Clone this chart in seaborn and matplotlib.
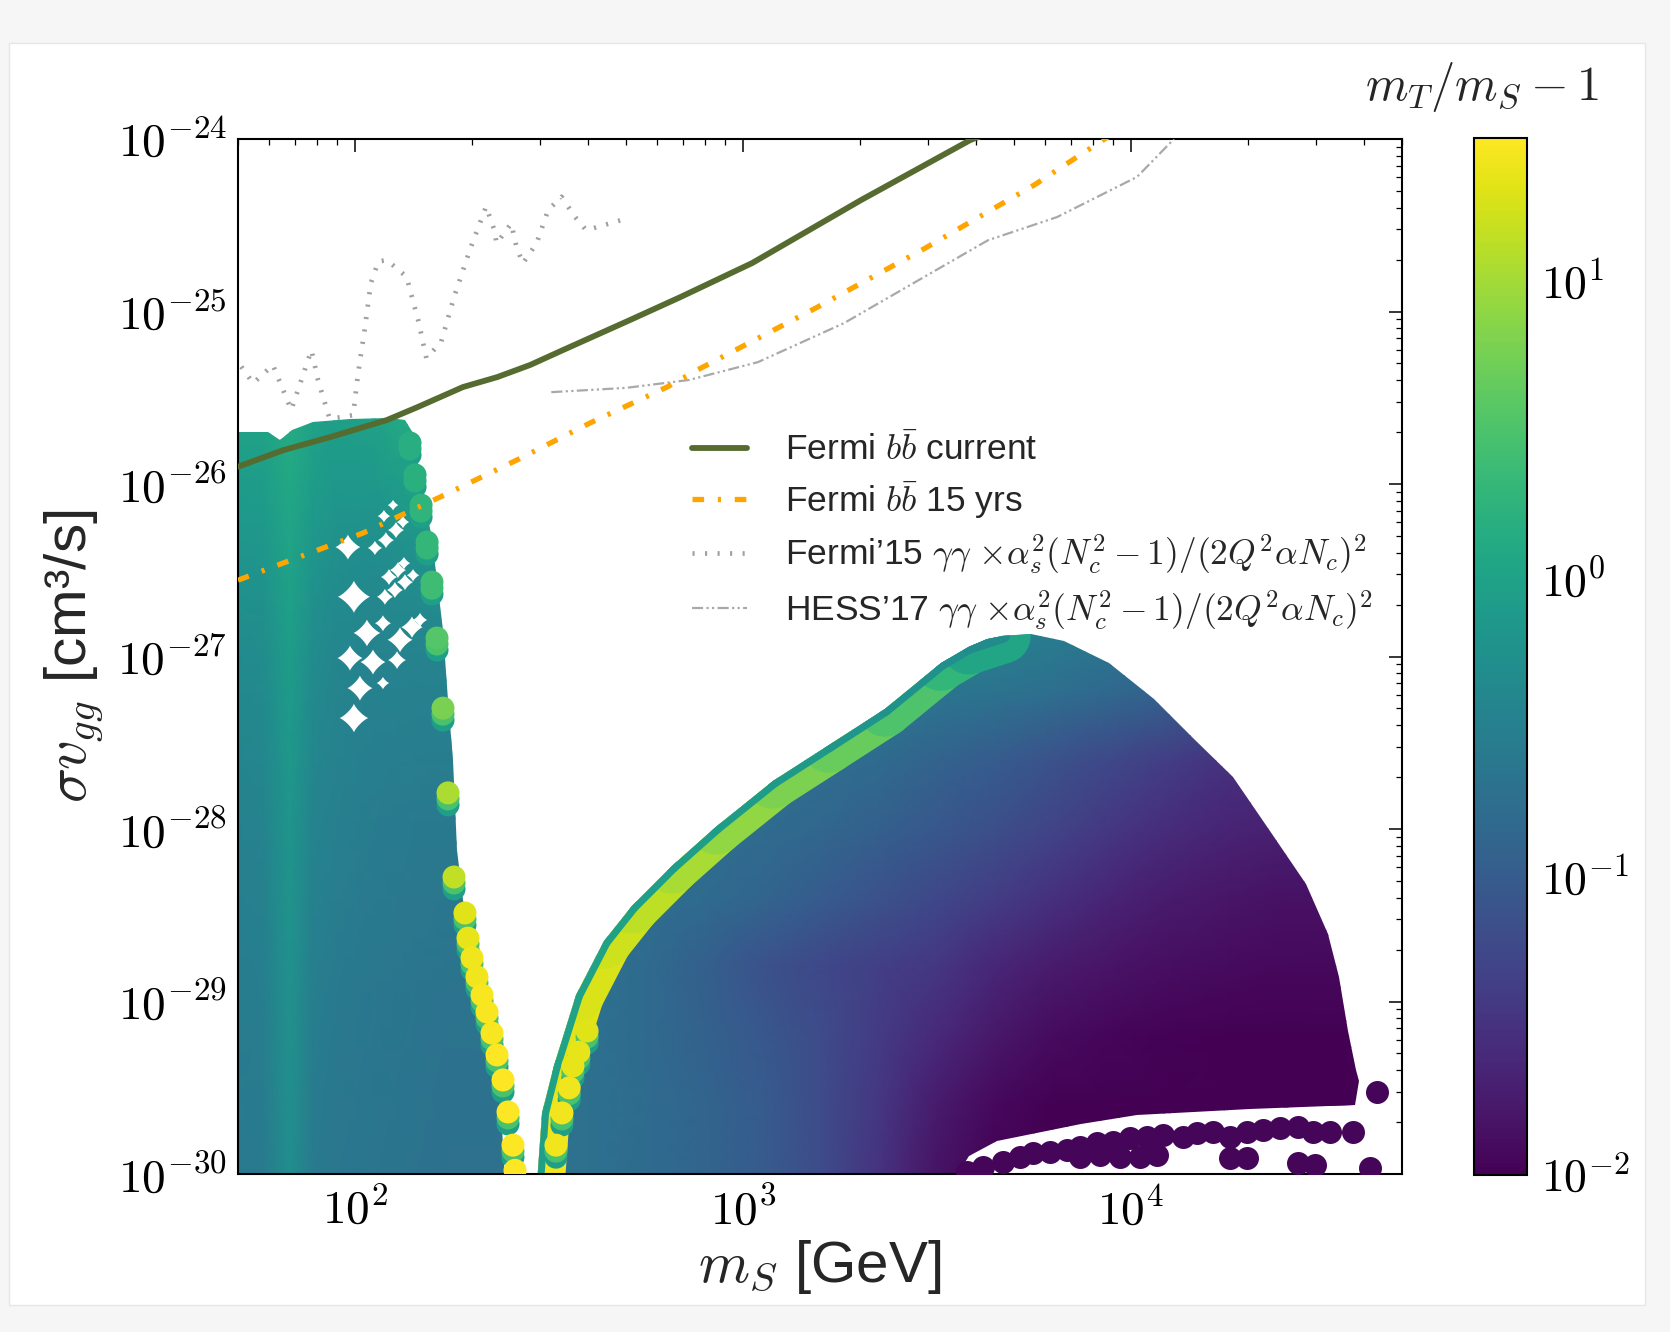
import numpy as np
import matplotlib
matplotlib.use("Agg")
import matplotlib.pyplot as plt
import seaborn as sns
from matplotlib.colors import LogNorm
from matplotlib.patches import Polygon, Rectangle
from matplotlib.collections import LineCollection
from matplotlib.path import Path
from matplotlib import ticker, transforms
import matplotlib.cm as cm

# ---------------- data ----------------
# limit curves (m_S in GeV, sigma v in cm^3/s)
fermi_current_mS = [50, 65.3, 86.3, 121, 145, 190, 233, 283, 344, 512, 689, 1057, 2018, 3855, 4467]
fermi_current_sv = [1.26e-26, 1.57e-26, 1.87e-26, 2.35e-26, 2.79e-26, 3.65e-26, 4.17e-26, 4.90e-26,
                    5.98e-26, 8.93e-26, 1.21e-25, 1.91e-25, 4.43e-25, 9.86e-25, 1.12e-24]

fermi15yr_mS = [50, 65.3, 105, 166, 262, 404, 638, 780, 1545, 2951, 5636, 8730]
fermi15yr_sv = [2.77e-27, 3.48e-27, 5.20e-27, 8.41e-27, 1.38e-26, 2.26e-26, 3.65e-26, 4.70e-26,
                1.05e-25, 2.33e-25, 5.41e-25, 1.03e-24]

fermi_gg_mS = [51.0, 54.7, 61.5, 68.6, 77.3, 80.4, 86.1, 92.3, 99.0, 102, 106, 110, 115, 121, 136, 146,
               153, 167, 181, 198, 218, 229, 232, 253, 261, 271, 294, 315, 341, 369, 395, 486]
fermi_gg_sv = [4.79e-26, 3.84e-26, 4.90e-26, 2.69e-26, 5.98e-26, 4.01e-26, 2.40e-26, 2.44e-26, 2.51e-26,
               4.39e-26, 7.82e-26, 1.46e-25, 1.95e-25, 1.99e-25, 1.59e-25, 8.73e-26, 5.36e-26, 6.68e-26,
               1.25e-25, 2.28e-25, 4.06e-25, 2.96e-25, 2.48e-25, 3.24e-25, 2.38e-25, 1.90e-25, 2.48e-25,
               3.87e-25, 4.63e-25, 3.55e-25, 2.96e-25, 3.39e-25]

hess_gg_mS = [321, 500, 726, 1094, 1824, 2649, 4285, 6457, 10375, 12706, 13397]
hess_gg_sv = [3.41e-26, 3.61e-26, 4.01e-26, 5.09e-26, 8.57e-26, 1.39e-25, 2.59e-25, 3.53e-25,
              6.03e-25, 9.62e-25, 1.13e-24]

# outline of the low-mass scan region
low_edge_mS = [45, 50, 59.7, 64.1, 68.9, 78.0, 97.2, 123, 135, 141, 146, 152, 158, 163, 169, 174, 179,
               183, 190, 204, 223, 237, 244, 45]
low_edge_sv = [2.0e-26, 2.0e-26, 2.0e-26, 1.80e-26, 2.06e-26, 2.29e-26, 2.38e-26, 2.42e-26, 2.35e-26,
               1.98e-26, 1.21e-26, 8.07e-27, 4.73e-27, 2.77e-27, 1.43e-27, 5.60e-28, 2.51e-28, 7.55e-29,
               3.87e-29, 1.74e-29, 6.84e-30, 3.07e-30, 8.9e-31, 8.9e-31]

# outline of the high-mass scan region
high_edge_mS = [295, 304, 326, 372, 439, 518, 657, 853, 1197, 1669, 2326, 3242, 3828, 4250, 4685, 5532,
                6726, 8787, 11477, 14466, 18340, 23110, 28290, 32230, 34410, 36290, 38050, 38730, 37820,
                20290, 10375, 7438, 4520, 3828, 3461]
high_edge_sv = [8.9e-31, 2.26e-30, 4.23e-30, 1.09e-29, 2.24e-29, 3.58e-29, 6.11e-29, 1.03e-28, 1.90e-28,
                3.07e-28, 4.97e-28, 9.16e-28, 1.14e-27, 1.26e-27, 1.32e-27, 1.35e-27, 1.23e-27, 9.16e-28,
                5.68e-28, 3.37e-28, 2.00e-28, 9.35e-29, 4.80e-29, 2.46e-29, 1.39e-29, 6.75e-30, 4.01e-30,
                3.46e-30, 2.51e-30, 2.38e-30, 2.20e-30, 1.95e-30, 1.55e-30, 1.27e-30, 8.9e-31]

# colour (m_T/m_S - 1, log10) read on a coarse grid, low-mass region
low_grid_mS = [45, 58, 68, 78, 89, 112, 141, 178, 250]
low_grid_sv = [7.9e-31, 1e-29, 1e-28, 1e-27, 3.16e-27, 1e-26, 2.5e-26]
low_grid_log_ratio = [
    [-0.60, -0.58, -0.30, -0.58, -0.62, -0.65, -0.68, -0.72, -0.72],
    [-0.55, -0.52, -0.25, -0.52, -0.58, -0.62, -0.65, -0.68, -0.68],
    [-0.48, -0.45, -0.18, -0.45, -0.50, -0.55, -0.58, -0.60, -0.60],
    [-0.35, -0.32, -0.08, -0.32, -0.40, -0.45, -0.45, -0.45, -0.45],
    [-0.22, -0.20, 0.00, -0.20, -0.30, -0.33, -0.30, -0.25, -0.25],
    [-0.10, -0.08, 0.08, -0.08, -0.15, -0.15, -0.05, 0.05, 0.05],
    [0.00, 0.02, 0.15, 0.00, -0.05, 0.00, 0.15, 0.30, 0.30],
]

# colour on a coarse grid, high-mass region
high_grid_mS = [282, 398, 562, 794, 1122, 1585, 2239, 3162, 4467, 6310, 8913, 12589, 17783, 25119, 39811]
high_grid_sv = [7.9e-31, 2.5e-30, 6.3e-30, 1.6e-29, 4.0e-29, 1e-28, 2.5e-28, 6.3e-28, 1.6e-27]
high_grid_log_ratio = [
    [-0.70, -0.72, -0.78, -0.88, -1.00, -1.20, -1.50, -1.85, -2.00, -2.00, -2.00, -2.00, -2.00, -2.00, -2.00],
    [-0.70, -0.72, -0.78, -0.88, -1.00, -1.20, -1.45, -1.75, -1.93, -2.00, -2.00, -2.00, -2.00, -2.00, -2.00],
    [-0.70, -0.72, -0.80, -0.92, -1.05, -1.20, -1.40, -1.60, -1.78, -1.90, -1.95, -1.98, -2.00, -2.00, -2.00],
    [-0.70, -0.72, -0.80, -0.95, -1.12, -1.25, -1.35, -1.45, -1.62, -1.75, -1.82, -1.87, -1.90, -1.92, -1.92],
    [-0.70, -0.70, -0.75, -0.80, -0.88, -1.00, -1.12, -1.25, -1.38, -1.52, -1.65, -1.75, -1.80, -1.85, -1.85],
    [-0.65, -0.65, -0.68, -0.72, -0.78, -0.85, -0.95, -1.05, -1.17, -1.30, -1.45, -1.57, -1.65, -1.70, -1.70],
    [-0.60, -0.60, -0.62, -0.65, -0.70, -0.74, -0.80, -0.90, -1.00, -1.12, -1.25, -1.38, -1.50, -1.55, -1.55],
    [-0.50, -0.50, -0.52, -0.55, -0.58, -0.60, -0.62, -0.64, -0.68, -0.74, -0.82, -0.92, -1.00, -1.05, -1.05],
    [-0.40, -0.40, -0.40, -0.40, -0.40, -0.40, -0.40, -0.40, -0.42, -0.50, -0.58, -0.65, -0.70, -0.75, -0.75],
]

# large-splitting points along the inner edge of the high-mass region
band_mS = [295, 304, 326, 372, 439, 518, 657, 853, 1197, 1669, 2326, 3242, 3828, 4685]
band_sv = [8.9e-31, 2.26e-30, 4.23e-30, 1.09e-29, 2.24e-29, 3.58e-29, 6.11e-29, 1.03e-28, 1.90e-28,
           3.07e-28, 4.97e-28, 9.16e-28, 1.14e-27, 1.32e-27]
band_ratio = [25, 25, 22, 20, 18, 15, 12, 9, 7, 5.5, 4, 2.5, 1.5, 0.8]
band_rim_ratio = [0.9, 0.9, 1.0, 1.0, 1.0, 0.9, 0.9, 0.8, 0.8, 0.7, 0.6, 0.55, 0.5, 0.45]

# individual points along the edges of the V
edge_dot_mS = [138.8, 143.0, 148.2, 153.6, 158.1, 162.9, 168.8, 173.9, 180.2, 192.3, 195.8, 200.5, 206.5,
               212.8, 219.2, 225.8, 232.6, 241.0, 248.3, 255.7, 258.8,
               330, 342, 357, 365, 378, 397]
edge_dot_sv = [1.73e-26, 1.13e-26, 7.55e-27, 4.61e-27, 2.70e-27, 1.28e-27, 5.02e-28, 1.62e-28, 5.27e-29,
               3.26e-29, 2.33e-29, 1.79e-29, 1.39e-29, 1.09e-29, 8.69e-30, 6.56e-30, 4.90e-30, 3.51e-30,
               2.29e-30, 1.47e-30, 1.05e-30,
               1.47e-30, 2.26e-30, 3.16e-30, 4.23e-30, 5.09e-30, 6.75e-30]
edge_dot_ratio = [1.5, 1.6, 1.8, 2.0, 2.5, 3.5, 6, 11, 14, 20, 22, 25, 25, 28, 28, 28, 30, 30, 30, 30, 30,
                  25, 25, 25, 22, 22, 20]

# gaps in the low-mass scan
gap_mS = [96.0, 112.7, 120.3, 127.7, 133.1, 118.9, 125.5, 122.5, 129.2, 133.9, 99.5, 119.6, 126.9, 134.7,
          141.3, 107.5, 118.2, 130.8, 140.4, 147.3, 97.2, 111.4, 128.5, 103.1, 118.2, 99.5]
gap_sv = [4.31e-27, 4.26e-27, 4.73e-27, 5.41e-27, 6.02e-27, 6.52e-27, 7.55e-27, 2.89e-27, 3.17e-27,
          3.48e-27, 2.22e-27, 2.22e-27, 2.43e-27, 2.70e-27, 2.96e-27, 1.37e-27, 1.56e-27, 1.25e-27,
          1.48e-27, 1.63e-27, 9.80e-28, 9.29e-28, 9.54e-28, 6.56e-28, 7.02e-28, 4.40e-28]
gap_size_px = [14, 8, 9, 9, 7, 7, 6, 9, 9, 7, 18, 9, 9, 9, 7, 15, 9, 14, 12, 8, 14, 14, 10, 14, 7, 16]

# isolated small-splitting points below the high-mass region
low_split_mS = [3784, 4160, 4685, 5182, 5598, 6191, 6848, 7398, 8183, 8998, 9953, 11010, 12105, 13633,
                14810, 16290, 18020, 19930, 21910, 24240, 26970, 29490, 32630, 37380,
                7398, 8330, 9380, 10561, 11680, 18020, 19930, 26970, 29840, 41350, 43110]
low_split_sv = [1.03e-30, 1.10e-30, 1.17e-30, 1.26e-30, 1.32e-30, 1.34e-30, 1.38e-30, 1.43e-30, 1.51e-30,
                1.53e-30, 1.62e-30, 1.64e-30, 1.68e-30, 1.64e-30, 1.73e-30, 1.75e-30, 1.64e-30, 1.75e-30,
                1.80e-30, 1.85e-30, 1.87e-30, 1.75e-30, 1.75e-30, 1.75e-30,
                1.26e-30, 1.29e-30, 1.26e-30, 1.26e-30, 1.29e-30, 1.24e-30, 1.24e-30, 1.16e-30, 1.13e-30,
                1.08e-30, 2.99e-30]
low_split_ratio = 0.011

x_ticks = [1e2, 1e3, 1e4]
y_ticks = [1e-30, 1e-29, 1e-28, 1e-27, 1e-26, 1e-25, 1e-24]
cbar_ticks = [1e-2, 1e-1, 1e0, 1e1]

# ---------------- style ----------------
sns.set_style("white")
plt.rcParams["font.family"] = ["Liberation Sans", "DejaVu Sans"]
plt.rcParams["mathtext.fontset"] = "cm"

fig = plt.figure(figsize=(16.7, 13.32), dpi=100)
fig.patch.set_facecolor("#f6f6f6")
fig.add_artist(Rectangle((0.0054, 0.0203), 0.9796, 0.9474, transform=fig.transFigure,
                         facecolor="white", edgecolor="#e6e6e6", lw=1.0, zorder=-10))

ax = fig.add_axes([0.1425, 0.1186, 0.697, 0.777])
cax = fig.add_axes([0.8826, 0.1179, 0.0317, 0.7785])
ax.set_xscale("log")
ax.set_yscale("log")
ax.set_xlim(50, 5e4)
ax.set_ylim(1e-30, 1e-24)

norm = LogNorm(vmin=0.01, vmax=30)
cmap = plt.get_cmap("viridis")

# ---------------- scan regions ----------------
low_patch = Polygon(np.column_stack([low_edge_mS, low_edge_sv]), closed=True, transform=ax.transData)
high_patch = Polygon(np.column_stack([high_edge_mS, high_edge_sv]), closed=True, transform=ax.transData)

LX, LY = np.meshgrid(low_grid_mS, low_grid_sv)
m1 = ax.pcolormesh(LX, LY, 10 ** np.array(low_grid_log_ratio), shading="gouraud", cmap=cmap, norm=norm,
                   zorder=1)
m1.set_clip_path(low_patch)

HX, HY = np.meshgrid(high_grid_mS, high_grid_sv)
m2 = ax.pcolormesh(HX, HY, 10 ** np.array(high_grid_log_ratio), shading="gouraud", cmap=cmap, norm=norm,
                   zorder=1)
m2.set_clip_path(high_patch)

# bright band along the inner edge, and its darker rim
pts = np.column_stack([band_mS, band_sv])
segs = [pts[i:i + 2] for i in range(len(pts) - 1)]
band_seg_ratio = [np.sqrt(band_ratio[i] * band_ratio[i + 1]) for i in range(len(pts) - 1)]
rim_seg_ratio = [np.sqrt(band_rim_ratio[i] * band_rim_ratio[i + 1]) for i in range(len(pts) - 1)]
lc_band = LineCollection(segs, colors=cmap(norm(band_seg_ratio)), linewidths=40, capstyle="round",
                         joinstyle="round", zorder=1.5)
ax.add_collection(lc_band)
lc_band.set_clip_path(high_patch)
lc_rim = LineCollection(segs, colors=cmap(norm(rim_seg_ratio)), linewidths=10, capstyle="round",
                        joinstyle="round", zorder=1.6)
ax.add_collection(lc_rim)
lc_rim.set_clip_path(high_patch)

# gaps in the low-mass scan (concave gap shape left between neighbouring points)
t = np.linspace(0, 2 * np.pi, 120)
cx, sx_ = np.cos(t), np.sin(t)
gap_shape = Path(np.column_stack([np.sign(cx) * np.abs(cx) ** 2.5, np.sign(sx_) * np.abs(sx_) ** 2.5]),
                 closed=True)
ax.scatter(gap_mS, gap_sv, s=(1.8 * np.array(gap_size_px) / 1.389) ** 2, marker=gap_shape, c="white",
           linewidths=0, zorder=2)

# edge points (each drawn with its smeared lower part)
dot_s = (23 / 1.389) ** 2
for dy, vals in [(-12, np.full(len(edge_dot_ratio), 0.9)),
                 (-6, np.minimum(np.array(edge_dot_ratio), 3.0)),
                 (0, np.array(edge_dot_ratio))]:
    tr = transforms.offset_copy(ax.transData, fig=fig, x=0, y=dy, units="dots")
    ax.scatter(edge_dot_mS, edge_dot_sv, s=dot_s, c=vals, cmap=cmap, norm=norm, linewidths=0,
               transform=tr, zorder=3)

sns.scatterplot(x=low_split_mS, y=low_split_sv, color=cmap(norm(low_split_ratio)), s=(23 / 1.389) ** 2,
                linewidth=0, ax=ax, zorder=3, legend=False)

# ---------------- limit curves ----------------
sns.lineplot(x=fermi_current_mS, y=fermi_current_sv, ax=ax, color="#556b2f", linewidth=4.2,
             sort=False, estimator=None, label=r"Fermi $b\bar{b}$ current", zorder=5)
sns.lineplot(x=fermi15yr_mS, y=fermi15yr_sv, ax=ax, color="#ffa500", linewidth=3.8,
             linestyle=(0, (2.2, 2.6, 0.6, 2.6)), sort=False, estimator=None,
             label=r"Fermi $b\bar{b}$ 15 yrs", zorder=5)
sns.lineplot(x=fermi_gg_mS, y=fermi_gg_sv, ax=ax, color="#a0a0a0", linewidth=3.4,
             linestyle=(0, (0.45, 2.2)), sort=False, estimator=None,
             label=r"Fermi’15 $\gamma\gamma$ $\times\alpha_s^2(N_c^2-1)/(2Q^2\alpha N_c)^2$", zorder=5)
sns.lineplot(x=hess_gg_mS, y=hess_gg_sv, ax=ax, color="#a9a9a9", linewidth=1.6,
             linestyle=(0, (5, 1.5, 1, 1.5, 1, 1.5)), sort=False, estimator=None,
             label=r"HESS’17 $\gamma\gamma$ $\times\alpha_s^2(N_c^2-1)/(2Q^2\alpha N_c)^2$", zorder=5)

ax.set_xlim(50, 5e4)
ax.set_ylim(1e-30, 1e-24)

leg = ax.legend(loc="upper left", bbox_to_anchor=(0.363, 0.747), frameon=False, fontsize=25.5,
                handlelength=1.55, handletextpad=1.06, labelspacing=0.33)

# ---------------- axes styling ----------------
def pow_fmt(v, pos):
    e = int(round(np.log10(v)))
    return r"$10^{%d}$" % e

ax.xaxis.set_major_locator(ticker.FixedLocator(x_ticks))
ax.yaxis.set_major_locator(ticker.FixedLocator(y_ticks))
for axis in (ax.xaxis, ax.yaxis):
    axis.set_minor_locator(ticker.LogLocator(base=10, subs=np.arange(2, 10), numticks=200))
    axis.set_major_formatter(ticker.FuncFormatter(pow_fmt))
    axis.set_minor_formatter(ticker.NullFormatter())

ax.tick_params(which="both", direction="in", top=True, right=True, colors="black")
ax.tick_params(which="major", length=9.4, width=1.1, labelsize=34)
ax.tick_params(which="minor", length=4.3, width=0.9)
ax.tick_params(axis="x", which="major", pad=10)
ax.tick_params(axis="y", which="major", pad=8)
for sp in ax.spines.values():
    sp.set_linewidth(1.5)
    sp.set_color("black")

ax.set_xlabel(r"$m_S$ [GeV]", fontsize=42)
ax.set_ylabel(r"$\sigma v_{gg}$ [cm³/s]", fontsize=42)
ax.xaxis.set_label_coords(0.5, -0.062)
ax.yaxis.set_label_coords(-0.113, 0.5)

# ---------------- colorbar ----------------
sm = cm.ScalarMappable(norm=norm, cmap=cmap)
cb = fig.colorbar(sm, cax=cax)
cb.outline.set_linewidth(1.5)
cb.outline.set_edgecolor("black")
cax.yaxis.set_major_locator(ticker.FixedLocator(cbar_ticks))
cax.yaxis.set_minor_locator(ticker.LogLocator(base=10, subs=np.arange(2, 10), numticks=100))
cax.yaxis.set_major_formatter(ticker.FuncFormatter(pow_fmt))
cax.yaxis.set_minor_formatter(ticker.NullFormatter())
cax.tick_params(which="both", direction="in", length=10, width=1.1, right=True, left=False,
                labelsize=33, pad=10, colors="black")
fig.text(1482 / 1670, 1 - 87 / 1332, r"$m_T/m_S-1$", ha="center", va="center", fontsize=35)

fig.savefig("out.png", dpi=100, facecolor=fig.get_facecolor())
